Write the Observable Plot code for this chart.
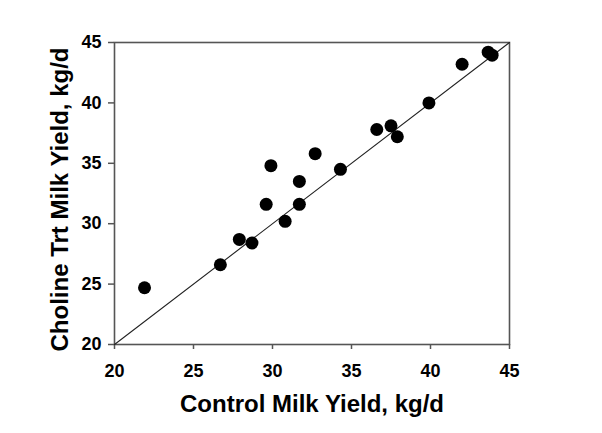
<!DOCTYPE html>
<html>
<head>
<meta charset="utf-8">
<script src="https://cdn.jsdelivr.net/npm/d3@7"></script>
<script src="https://cdn.jsdelivr.net/npm/@observablehq/plot@0.6"></script>
<style>
  html, body { margin: 0; padding: 0; background: #fff; }
  #chart svg { display: block; }
</style>
</head>
<body>
<div id="chart"></div>
<script>
const controlYield = [21.9, 26.7, 27.9, 28.7, 29.6, 29.9, 30.8, 31.7, 31.7, 32.7, 34.3, 36.6, 37.5, 37.9, 39.9, 42.0, 43.65, 43.9];
const cholineYield = [24.7, 26.6, 28.7, 28.4, 31.6, 34.8, 30.2, 31.6, 33.5, 35.8, 34.5, 37.8, 38.1, 37.2, 40.0, 43.2, 44.2, 43.95];
const tickValues = [20, 25, 30, 35, 40, 45];
const identityLine = [20, 45];
const xTitle = "Control Milk Yield, kg/d";
const yTitle = "Choline Trt Milk Yield, kg/d";

const data = controlYield.map((c, i) => ({control: c, choline: cholineYield[i]}));
const font = "Arial, 'Liberation Sans', Helvetica, sans-serif";

const chart = Plot.plot({
  width: 602,
  height: 433,
  marginLeft: 114,
  marginRight: 93,
  marginTop: 42,
  marginBottom: 89,
  style: {fontFamily: font, background: "#fff", color: "#000"},
  x: {domain: [20, 45]},
  y: {domain: [20, 45]},
  marks: [
    Plot.frame({stroke: "#555", strokeWidth: 1.6}),
    Plot.axisX({ticks: tickValues, tickSize: 5, tickPadding: 15, fontSize: 18, fontWeight: "bold", stroke: "#555", strokeWidth: 1.5, label: null, tickFormat: d => d}),
    Plot.axisY({ticks: tickValues, tickSize: 6, tickPadding: 7, fontSize: 18, fontWeight: "bold", stroke: "#555", strokeWidth: 1.5, label: null, tickFormat: d => d}),
    Plot.line(identityLine, {x: d => d, y: d => d, stroke: "#222", strokeWidth: 1.1}),
    Plot.dot(data, {x: "control", y: "choline", r: 6.5, fill: "#000", stroke: "none"}),
    Plot.text([xTitle], {text: d => d, frameAnchor: "bottom", dy: 60, fontSize: 24, fontWeight: "bold", lineAnchor: "middle", fill: "#000"}),
    Plot.text([yTitle], {text: d => d, frameAnchor: "left", dx: -54, dy: 6, rotate: -90, textAnchor: "middle", lineAnchor: "middle", fontSize: 24, fontWeight: "bold", fill: "#000"})
  ]
});
document.getElementById("chart").appendChild(chart);
</script>
</body>
</html>
